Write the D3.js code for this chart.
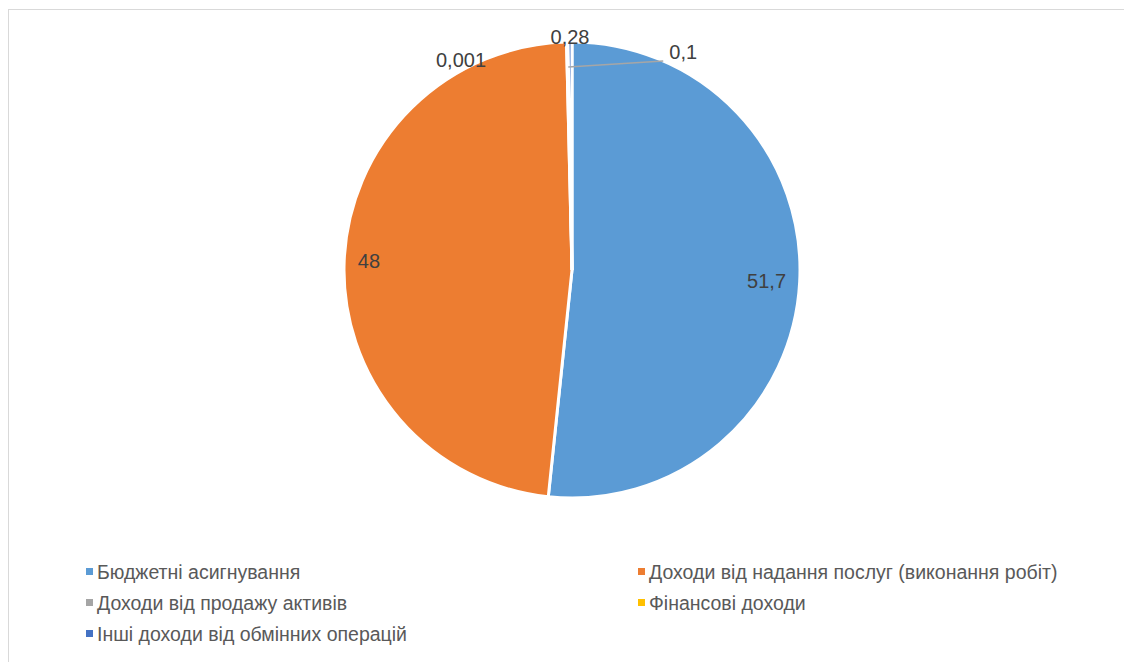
<!DOCTYPE html>
<meta charset="utf-8">
<script src="https://cdn.jsdelivr.net/npm/d3@7"></script>
<style>
  body { margin: 0; background: #fff; }
  text { font-family: "Liberation Sans", Arial, sans-serif; }
  .label { fill: #404040; font-size: 20px; }
  .legend text { fill: #595959; font-size: 19.5px; font-family: "Liberation Sans Narrow", "Liberation Sans", sans-serif; }
</style>
<body>
<script>

// slice categories and values (%)
var categories = [
  "Бюджетні асигнування",
  "Доходи від надання послуг (виконання робіт)",
  "Доходи від продажу активів",
  "Фінансові доходи",
  "Інші доходи від обмінних операцій"
];
var values = [51.7, 48, 0.1, 0.001, 0.28];
var valueLabels = ["51,7", "48", "0,1", "0,001", "0,28"];
var colors = ["#5b9bd5", "#ed7d31", "#a5a5a5", "#ffc000", "#4472c4"];

var width = 1124,
    height = 662,
    cx = 572,
    cy = 270,
    radius = 228;

var svg = d3.select("body").append("svg")
    .attr("width", width)
    .attr("height", height);

// chart area frame
svg.append("rect")
    .attr("x", 8.5)
    .attr("y", 9.5)
    .attr("width", width + 20)
    .attr("height", height + 20)
    .attr("fill", "none")
    .attr("stroke", "#d9d9d9")
    .attr("stroke-width", 1);

var pie = d3.pie().sort(null).value(function(d) { return d; });
var arcs = pie(values);

var arc = d3.arc().innerRadius(0).outerRadius(radius);

var g = svg.append("g")
    .attr("transform", "translate(" + cx + "," + cy + ")");

g.selectAll("path.slice")
    .data(arcs)
    .enter().append("path")
    .attr("class", "slice")
    .attr("d", arc)
    .attr("fill", function(d, i) { return colors[i]; })
    .attr("stroke", "#fff")
    .attr("stroke-width", 3);

// big slices: label inside, against the edge
var inner = d3.arc().innerRadius(radius * 0.94).outerRadius(radius * 0.94);

// small slices: labels pushed out around the top (dx, dy from slice tip)
var nudge = {
  2: {dx: 116, dy: 10, leader: true},
  3: {dx: -107, dy: 18},
  4: {dx: 0, dy: -5}
};

arcs.forEach(function(d, i) {
  var mid = (d.startAngle + d.endAngle) / 2;
  var x, y, anchor = "middle";
  if (nudge[i]) {
    var tx = Math.sin(mid) * radius,
        ty = -Math.cos(mid) * radius;
    x = tx + nudge[i].dx;
    y = ty + nudge[i].dy;
    if (nudge[i].leader) {
      g.append("line")
          .attr("x1", tx + 1)
          .attr("y1", ty + 25)
          .attr("x2", x - 20)
          .attr("y2", y + 9)
          .attr("stroke", "#a6a6a6")
          .attr("stroke-width", 1.5);
    }
  } else {
    var c = inner.centroid(d);
    x = c[0];
    y = c[1];
    anchor = x > 0 ? "end" : "start";
  }
  g.append("text")
      .attr("class", "label")
      .attr("x", x)
      .attr("y", y)
      .attr("text-anchor", anchor)
      .attr("dy", "0.35em")
      .text(valueLabels[i]);
});

// legend, two columns
var colX = [86, 638],
    rowY = [572, 603, 634];

var legend = svg.append("g").attr("class", "legend");

categories.forEach(function(name, i) {
  var x = colX[i % 2],
      y = rowY[Math.floor(i / 2)];
  legend.append("rect")
      .attr("x", x)
      .attr("y", y - 4)
      .attr("width", 7)
      .attr("height", 7)
      .attr("fill", colors[i]);
  legend.append("text")
      .attr("x", x + 11)
      .attr("y", y)
      .attr("dy", "0.35em")
      .text(name);
});

</script>
</body>
